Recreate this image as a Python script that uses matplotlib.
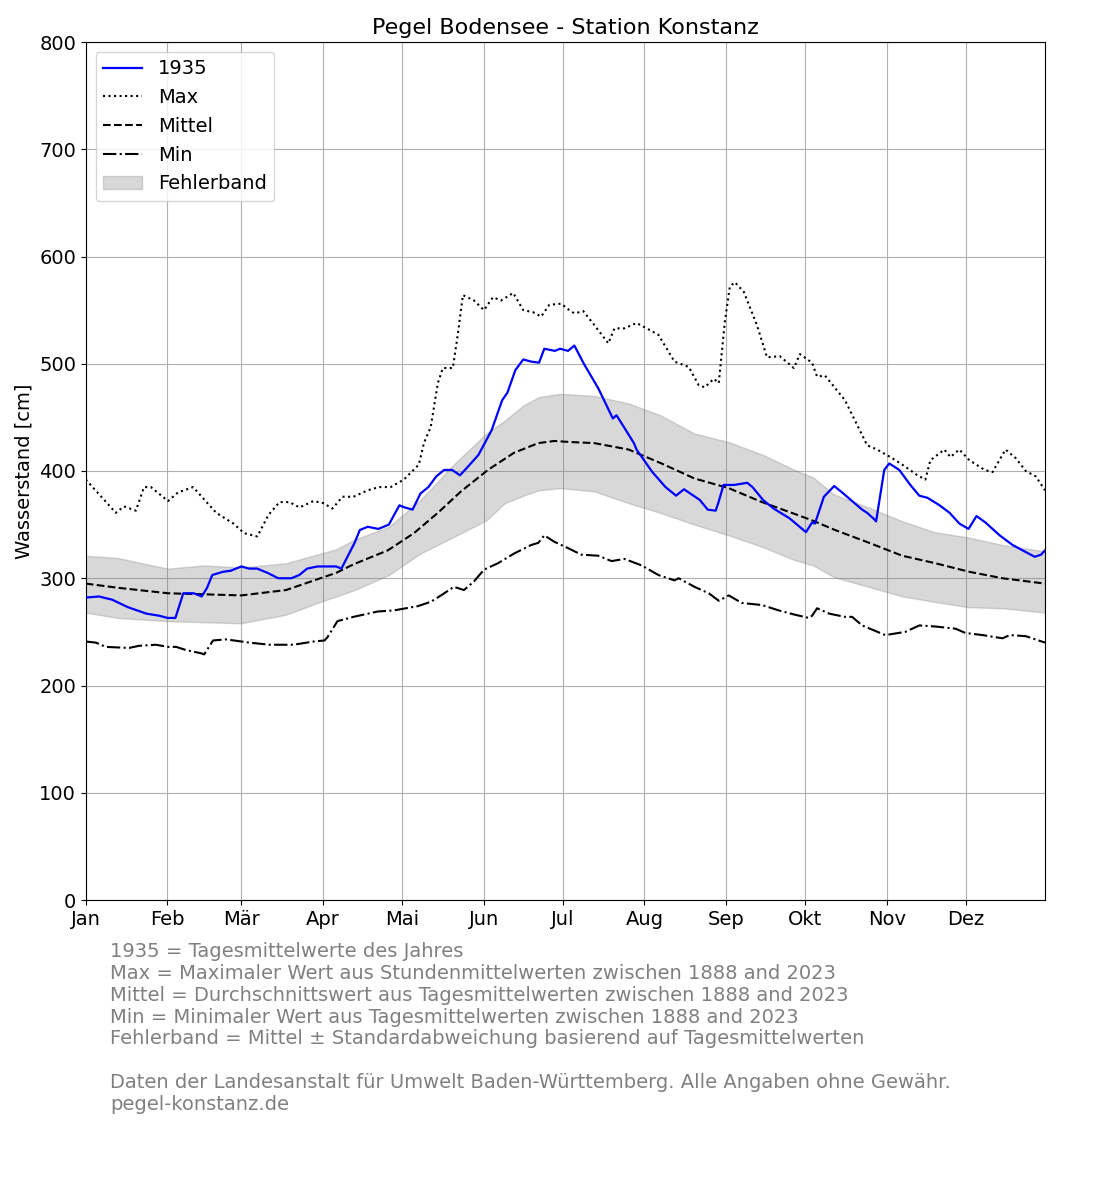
import matplotlib
matplotlib.use('Agg')
import matplotlib.pyplot as plt

# Tag im Jahr (0 = 1. Januar) und Pegel in cm
days_1935 = [0, 5, 10, 16, 23, 28, 31, 34, 37, 41, 44, 46, 48, 52, 55, 59, 62, 65, 69, 73, 78, 81, 84, 88,
             95, 97, 102, 104, 107, 111, 115, 119, 121, 124, 127, 130, 133, 136, 139, 142, 145, 149, 154,
             158, 160, 163, 166, 169, 172, 174, 178, 180, 183, 185.4, 189, 194.5, 200, 201.4, 208, 209,
             215, 220, 224, 227, 233, 236, 239, 240, 242, 246, 251, 253, 257, 261, 267, 273.3, 275.6,
             276.7, 280.1, 284, 287, 294.6, 296.5, 299.2, 299.9, 303, 304.9, 308.7, 312.9, 316.3, 319.4,
             324, 327.8, 331.5, 335, 338, 341.4, 346.8, 351.7, 355.5, 360.1, 362.5, 364]
wert_1935 = [282, 283, 280, 273, 267, 265, 263, 263, 286, 286, 283, 291, 303, 306, 307, 311, 309, 309, 305,
             300, 300, 303, 309, 311, 311, 309, 333, 345, 348, 346, 350, 368, 366, 364, 379, 385, 395, 401,
             401, 396, 404, 415, 438, 466, 473, 494, 504, 502, 501, 514, 512, 514, 512, 517, 500, 477, 449,
             452, 426, 420, 399, 385, 377, 383, 373, 364, 363, 370, 387, 387, 389, 385, 373, 365, 356, 343,
             352, 351, 376, 386, 380, 364, 361, 355, 353, 401, 407, 401, 387, 377, 375, 368, 361, 351, 346,
             358, 352, 340, 331, 326, 320, 322, 326]

days_max = [0, 11.4, 14.5, 19, 22.1, 24.7, 31.2, 35, 40.7, 49.5, 56, 60.1, 65.1, 69.3, 73.5, 77.3, 81.1,
            86.4, 90.2, 93.6, 97.4, 101.6, 107, 111.2, 115.7, 120.7, 126.4, 128.3, 130.9, 133.6, 135.5,
            139.3, 141.2, 143.1, 147.3, 151.1, 154.5, 157.6, 162.2, 166, 169.8, 172.8, 175.9, 180.4,
            183.5, 185.4, 188.8, 193, 198.3, 200.6, 204.4, 209, 212.8, 217.3, 223.4, 228.8, 232.6, 234.9,
            238.3, 240.2, 242.5, 244.4, 246.3, 249.7, 254.7, 258.5, 263.4, 268.7, 271, 275.6, 277.5,
            280.5, 288.1, 296.5, 300.3, 305.3, 309.8, 315.6, 318.6, 320.5, 325.8, 328.1, 331.5, 335.3,
            341.1, 344.1, 349, 352.9, 356.7, 360.5, 364]
wert_max = [392, 361, 367, 363, 385, 385, 372, 380, 385, 361, 351, 342, 339, 359, 371, 371, 366, 372, 370,
            365, 376, 376, 382, 385, 385, 392, 406, 426, 441, 482, 496, 496, 528, 564, 559, 550, 562, 559,
            566, 550, 548, 544, 555, 556, 550, 547, 549, 536, 519, 533, 533, 538, 533, 527, 502, 497, 480,
            478, 486, 482, 539, 572, 576, 567, 536, 506, 507, 496, 509, 501, 488, 489, 466, 424, 420, 413,
            406, 396, 392, 410, 420, 413, 420, 410, 401, 399, 420, 412, 400, 395, 382]

days_mittel = [0, 12.6, 31.2, 59, 76, 89, 95, 101.6, 114.6, 124.5, 133.6, 142.4, 152.6, 162.5, 171.7,
               177.8, 184, 193, 206, 218.5, 231, 244, 256.6, 269, 275.6, 284.3, 297.3, 309.8, 322.4,
               335.3, 347.9, 364]
wert_mittel = [295, 291, 286, 284, 289, 300, 305, 313, 326, 342, 361, 381, 401, 417, 426, 428, 427, 426,
               420, 407, 393, 384, 371, 360, 354, 345, 333, 321, 314, 306, 300, 295]

days_band = [0, 12, 31, 45, 59, 76, 89, 95, 102, 115, 127, 140, 152, 159, 166, 172, 180, 193, 206, 218,
             231, 244, 257, 269, 276, 284, 297, 310, 322, 335, 348, 364]
band_oben = [321, 319, 309, 312, 310, 314, 323, 327, 336, 348, 373, 407, 435, 447, 461, 469, 472, 470, 463,
             452, 435, 427, 415, 401, 394, 378, 366, 353, 343, 338, 331, 325]
band_unten = [268, 263, 260, 259, 258, 266, 278, 283, 289, 303, 323, 339, 354, 370, 377, 382, 384, 381,
              370, 361, 350, 340, 329, 317, 312, 301, 292, 283, 278, 273, 272, 268]

days_min = [0, 3.8, 7.6, 16.4, 20.2, 26.6, 31.2, 34.3, 38.1, 43.8, 44.9, 48.3, 53.3, 62, 69.7, 78.8, 86.4,
            90.6, 91.7, 95.5, 101.6, 110.8, 116.9, 126, 130.9, 134.8, 139.7, 143.5, 147.3, 151.1, 156.4,
            162.5, 169, 171.7, 174, 177.8, 183.1, 188, 194.5, 199.5, 204.4, 210.9, 217.3, 223.4, 225, 231,
            236.4, 240.2, 244, 248.9, 256.6, 263, 269.1, 274.4, 275.6, 277.5, 282.1, 288.1, 290.8, 294.6,
            303.4, 311, 316.3, 322.4, 330, 333.8, 340.3, 347.9, 350.6, 356.7, 364]
wert_min = [241, 240, 236, 235, 237, 238, 236, 236, 233, 230, 229, 242, 243, 240, 238, 238, 241, 242, 245,
            260, 264, 269, 270, 274, 278, 284, 292, 289, 297, 308, 314, 323, 331, 333, 340, 334, 328, 322,
            321, 316, 318, 312, 303, 298, 300, 292, 286, 279, 284, 277, 275, 270, 266, 263, 265, 272, 267,
            264, 264, 256, 247, 250, 256, 255, 253, 249, 247, 244, 247, 246, 240]

monat_tage = [0, 31, 59, 90, 120, 151, 181, 212, 243, 273, 304, 334]
monat_namen = ['Jan', 'Feb', 'Mär', 'Apr', 'Mai', 'Jun', 'Jul', 'Aug', 'Sep', 'Okt', 'Nov', 'Dez']

fig = plt.figure(figsize=(11, 12), dpi=100)
ax = fig.add_axes([0.078, 0.25, 0.872, 0.715])

ax.plot(days_1935, wert_1935, color='blue', lw=1.6, label='1935', zorder=4)
ax.plot(days_max, wert_max, color='black', ls=':', lw=1.5, label='Max', zorder=3)
ax.plot(days_mittel, wert_mittel, color='black', ls='--', lw=1.5, label='Mittel', zorder=3)
ax.plot(days_min, wert_min, color='black', ls='-.', lw=1.5, label='Min', zorder=3)
ax.fill_between(days_band, band_unten, band_oben, color='grey', alpha=0.3, label='Fehlerband', zorder=2)

ax.set_xlim(0, 364)
ax.set_ylim(0, 800)
ax.set_xticks(monat_tage)
ax.set_xticklabels(monat_namen)
ax.tick_params(labelsize=14)
ax.grid(True, zorder=0)
ax.set_axisbelow(True)
ax.set_ylabel('Wasserstand [cm]', fontsize=14)
ax.set_title('Pegel Bodensee - Station Konstanz', fontsize=16)
ax.legend(loc='upper left', fontsize=14)

fusszeile = ('1935 = Tagesmittelwerte des Jahres\n'
             'Max = Maximaler Wert aus Stundenmittelwerten zwischen 1888 and 2023\n'
             'Mittel = Durchschnittswert aus Tagesmittelwerten zwischen 1888 and 2023\n'
             'Min = Minimaler Wert aus Tagesmittelwerten zwischen 1888 and 2023\n'
             'Fehlerband = Mittel ± Standardabweichung basierend auf Tagesmittelwerten\n'
             '\n'
             'Daten der Landesanstalt für Umwelt Baden-Württemberg. Alle Angaben ohne Gewähr.\n'
             'pegel-konstanz.de')
fig.text(0.1, 0.215, fusszeile, fontsize=14, color='grey', va='top', ha='left', linespacing=1.19)

plt.savefig('out.png', dpi=100, facecolor='white')
